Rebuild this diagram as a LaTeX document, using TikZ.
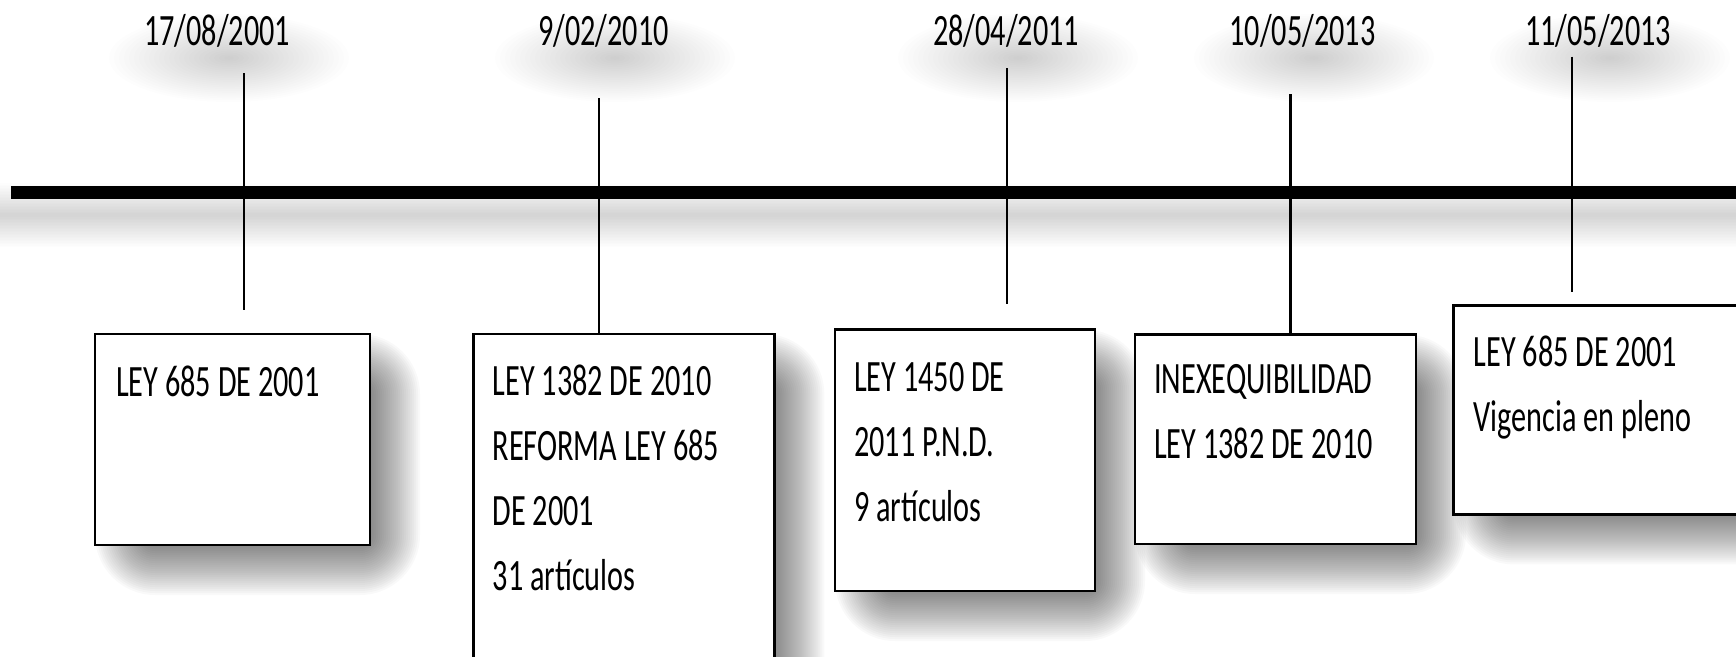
\documentclass[tikz,border=0pt]{standalone}
\usepackage{fontspec}
\setmainfont{Carlito}[FakeStretch=0.675]
\usetikzlibrary{fit}
\newcommand\evlines[1]{\parbox[t]{420pt}{\raggedright #1}}
% soft shadow of a box: #1,#2 = box top-left, #3,#4 = box bottom-right
\newcommand\boxshade[4]{%
  \foreach \i in {1,...,30}{%
    \pgfmathsetmacro\ee{-30+60*\i/30}%
    \pgfmathsetmacro\rc{max(\ee+30,1)}%
    \fill[shadowfill, rounded corners=\rc pt] (#1+30-\ee,#2+30-\ee) rectangle (#3+20+\ee,#4+20+\ee);
  }}
% soft elliptic shadow under a date
\newcommand\dateshade[2]{%
  \foreach \i in {1,...,24}{%
    \fill[dateshadowfill] (#1,#2) ellipse [x radius={120*\i/24}, y radius={44*\i/24}];
  }}
\tikzset{
  shadowfill/.style={black, opacity=0.023},
  dateshadowfill/.style={black, opacity=0.0085},
  axshadowline/.style={black, opacity=0.008},
  datelbl/.style={font=\fontsize{44.8}{54}\selectfont, anchor=base, inner sep=0pt},
  evbox/.style={draw=black, line width=2.6pt, fill=white, inner sep=0pt},
  evtext/.style={font=\fontsize{44.8}{65}\selectfont, anchor=base west, inner sep=0pt},
  tickline/.style={line width=2.6pt},
  axisline/.style={line width=13pt},
}
\begin{document}
\begin{tikzpicture}[x=1pt,y=-1pt]
\useasboundingbox (0,0) rectangle (1736,656);
\clip (0,0) rectangle (1736,656);
% ---- shadows ----
\foreach \w in {4,7,...,64} \draw[axshadowline, line width=\w pt] (0,215) -- (1760,215);
\dateshade{229}{58}
\dateshade{615}{58}
\dateshade{1018}{58}
\dateshade{1314}{58}
\dateshade{1610}{58}
\boxshade{95}{334}{370}{545}
\boxshade{473.3}{334}{774.3}{714}
\boxshade{835}{329.7}{1095}{591}
\boxshade{1135}{334.7}{1416}{544}
\boxshade{1453.7}{305.4}{1780}{514.4}
% ---- dates ----
\node[datelbl] (d1) at (217,45) {17/08/2001};
\node[datelbl] (d2) at (603.5,45) {9/02/2010};
\node[datelbl] (d3) at (1006,45) {28/04/2011};
\node[datelbl] (d4) at (1302.5,45) {10/05/2013};
\node[datelbl] (d5) at (1598,45) {11/05/2013};
% ---- axis ----
\coordinate (axL) at (11,192.6);
\coordinate (axR) at (1760,192.6);
\draw[axisline] (axL) -- (axR);
% ---- boxes ----
\coordinate (b1nw) at (95,334);      \coordinate (b1se) at (370,545);
\coordinate (b2nw) at (473.3,334);   \coordinate (b2se) at (774.3,714);
\coordinate (b3nw) at (835,329.7);   \coordinate (b3se) at (1095,591);
\coordinate (b4nw) at (1135,334.7);  \coordinate (b4se) at (1416,544);
\coordinate (b5nw) at (1453.7,305.4);\coordinate (b5se) at (1780,514.4);
\node[evbox, fit=(b1nw)(b1se)] (b1) {};
\node[evbox, fit=(b2nw)(b2se)] (b2) {};
\node[evbox, fit=(b3nw)(b3se)] (b3) {};
\node[evbox, fit=(b4nw)(b4se)] (b4) {};
\node[evbox, fit=(b5nw)(b5se)] (b5) {};
% ---- texts ----
\node[evtext] (b1t) at (116,396) {\evlines{LEY 685 DE 2001}};
\node[evtext] (b2t) at (492.5,395.4) {\evlines{LEY 1382 DE 2010\\REFORMA LEY 685\\DE 2001\\31 artículos}};
\node[evtext] (b3t) at (854,391) {\evlines{LEY 1450 DE\\2011 P.N.D.\\9 artículos}};
\node[evtext] (b4t) at (1154,393) {\evlines{INEXEQUIBILIDAD\\LEY 1382 DE 2010}};
\node[evtext] (b5t) at (1473.5,366) {\evlines{LEY 685 DE 2001\\Vigencia en pleno}};
% ---- ticks ----
\coordinate (t1a) at (244,73);    \coordinate (t1b) at (244,310);
\coordinate (t2a) at (599,98);
\coordinate (t3a) at (1007,68);   \coordinate (t3b) at (1007,304);
\coordinate (t4a) at (1290.7,94);
\coordinate (t5a) at (1572,56.5); \coordinate (t5b) at (1572,291.6);
\draw[tickline] (t1a) -- (t1b);
\draw[tickline] (t2a) -- (t2a |- b2.north);
\draw[tickline] (t3a) -- (t3b);
\draw[tickline] (t4a) -- (t4a |- b4.north);
\draw[tickline] (t5a) -- (t5b);
\end{tikzpicture}
\end{document}
